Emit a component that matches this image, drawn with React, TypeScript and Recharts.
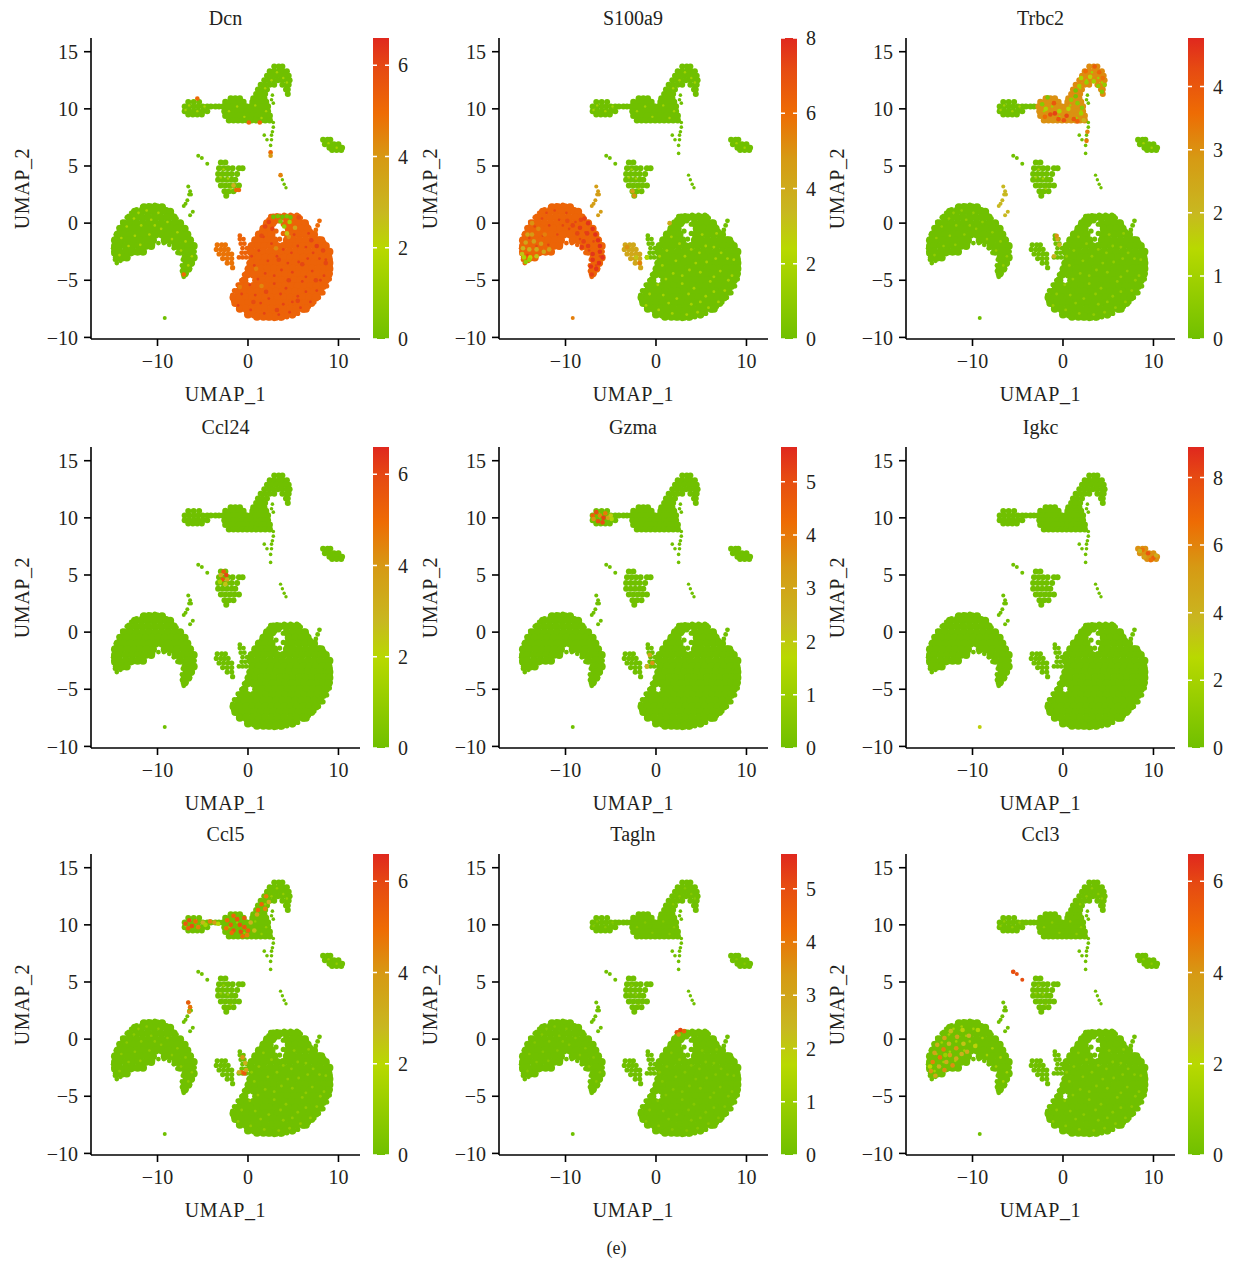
import React from 'react';
import {
  ScatterChart,
  Scatter,
  XAxis,
  YAxis,
  BarChart,
  Bar,
  ReferenceLine,
} from 'recharts';

type Row = [number, number[]];
type Hot = [number, number, number];

const FONT = '"Liberation Serif", serif';
const INK = '#231f20';

const genes = ['Dcn', 'S100a9', 'Trbc2', 'Ccl24', 'Gzma', 'Igkc', 'Ccl5', 'Tagln', 'Ccl3'];
const maxima = [6.6, 8, 4.77, 6.6, 5.65, 8.9, 6.6, 5.65, 6.6];
const legendTicks = [
  [0, 2, 4, 6],
  [0, 2, 4, 6, 8],
  [0, 1, 2, 3, 4],
  [0, 2, 4, 6],
  [0, 1, 2, 3, 4, 5],
  [0, 2, 4, 6, 8],
  [0, 2, 4, 6],
  [0, 1, 2, 3, 4, 5],
  [0, 2, 4, 6],
];
const xTicks = [-10, 0, 10];
const yTicks = [-10, -5, 0, 5, 10, 15];

const colorStops: [number, string][] = [
  [0, '#70c000'],
  [0.3, '#b8d900'],
  [0.42, '#c8b820'],
  [0.6, '#d69a14'],
  [0.75, '#ee6c04'],
  [0.9, '#e64a12'],
  [1, '#e0281e'],
];

// cells, written as rows: [UMAP_2, [UMAP_1 ...]]
const blobRows: Row[] = [
  [0.5, [2.8, 3.5, 4.2, 4.9, 5.5]],
  [0, [2.1, 2.7, 4.3, 5, 5.7, 6.3]],
  [-0.5, [1.7, 2.4, 4.5, 5.2, 5.9, 6.6]],
  [-1, [1.2, 1.9, 2.6, 4.4, 4.9, 5.6, 6.3, 7, 7.3]],
  [-1.5, [0.8, 1.5, 2.2, 2.9, 4.3, 5, 5.7, 6.4, 7.1, 7.8, 8.1]],
  [-2, [0.4, 1.1, 1.8, 2.5, 3.2, 3.9, 4.6, 5.3, 6, 6.7, 7.4, 8.1, 8.6]],
  [-2.5, [0.3, 1, 1.7, 2.4, 3.1, 3.8, 4.5, 5.2, 5.9, 6.6, 7.3, 8, 8.7, 9]],
  [-3, [0.5, 1.2, 1.9, 2.6, 3.3, 4, 4.7, 5.4, 6.1, 6.8, 7.5, 8.2, 8.9]],
  [-3.5, [0.3, 1, 1.7, 2.4, 3.1, 3.8, 4.5, 5.2, 5.9, 6.6, 7.3, 8, 8.7, 9]],
  [-4, [0.1, 0.8, 1.5, 2.2, 2.9, 3.6, 4.3, 5, 5.7, 6.4, 7.1, 7.8, 8.5, 9]],
  [-4.5, [-0.1, 0.6, 1.3, 2, 2.7, 3.4, 4.1, 4.8, 5.5, 6.2, 6.9, 7.6, 8.3, 8.9]],
  [-5, [-0.4, 0.9, 1.6, 2.3, 3, 3.7, 4.4, 5.1, 5.8, 6.5, 7.2, 7.9, 8.6]],
  [-5.5, [-0.8, -0.1, 0.6, 1.3, 2, 2.7, 3.4, 4.1, 4.8, 5.5, 6.2, 6.9, 7.6, 8.3]],
  [-6, [-1.1, -0.4, 0.3, 1, 1.7, 2.4, 3.1, 3.8, 4.5, 5.2, 5.9, 6.6, 7.3, 8]],
  [-6.5, [-1.6, -0.9, -0.2, 0.5, 1.2, 1.9, 2.6, 3.3, 4, 4.7, 5.4, 6.1, 6.8, 7.5]],
  [-7, [-1.4, -0.7, 0, 0.7, 1.4, 2.1, 2.8, 3.5, 4.2, 4.9, 5.6, 6.3, 7]],
  [-7.5, [-0.9, -0.2, 0.5, 1.2, 1.9, 2.6, 3.3, 4, 4.7, 5.4, 6.1, 6.4]],
  [-8, [0, 0.7, 1.4, 2.1, 2.8, 3.5, 4.2, 4.9]],
  [-8.2, [1, 1.7, 2.4, 3.1, 3.7]],
];
// outline cells, small, they smooth the edge; the last ones sit inside the top gap
const blobEdge: [number, number][] = [
  [2.5, 0.6], [3.2, 0.65], [4, 0.7], [4.7, 0.7], [5.4, 0.7], [5.8, 0.45], [6.2, 0.1], [6.5, -0.2], [6.9, -0.7],
  [7.4, -1.1], [7.9, -1.4], [8.4, -1.7], [8.7, -2.1], [9, -2.6], [9.1, -3.2], [9.1, -3.8], [9.1, -4.4], [9, -4.9],
  [8.7, -5.5], [8.3, -6.1], [7.8, -6.5], [7.3, -6.9], [6.7, -7.3], [6.1, -7.6], [5.5, -7.9], [4.9, -8.1], [4.3, -8.2],
  [3.6, -8.3], [2.9, -8.35], [2.2, -8.3], [1.5, -8.2], [0.9, -8.1], [0.3, -8], [-0.2, -7.7], [-0.7, -7.4], [-1.2, -7.1],
  [-1.6, -6.8], [-1.7, -6.3], [-1.5, -5.9], [-1.1, -5.4], [-0.7, -5], [-0.4, -4.5], [-0.1, -4], [0.1, -3.5], [0.3, -3],
  [0.3, -2.5], [0.4, -2], [0.7, -1.6], [1.1, -1.1], [1.5, -0.7], [1.9, -0.2], [2.3, 0.3],
  [3, 0.1], [3.9, -0.1], [3.1, -0.7], [3.9, -0.9], [3.5, -1.4], [3.4, 0.2],
];
const crescentRows: Row[] = [
  [1.4, [-11.5, -10.8, -10.1, -9.5]],
  [1, [-12.5, -11.8, -11.1, -10.4, -9.7, -9, -8.6]],
  [0.5, [-13.1, -12.4, -11.7, -11, -10.3, -9.6, -8.9, -8.2]],
  [0, [-13.7, -13, -12.3, -11.6, -10.9, -10.2, -9.5, -8.8, -8.1, -7.5]],
  [-0.5, [-14.1, -13.4, -12.7, -12, -11.3, -10.6, -9.9, -9.2, -8.5, -7.8, -7]],
  [-1, [-14.4, -13.7, -13, -12.3, -11.6, -10.9, -10.2, -9.5, -8.8, -8.1, -7.4, -6.7]],
  [-1.5, [-14.7, -14, -13.3, -12.6, -11.9, -11.2, -10.5, -9.2, -8.5, -7.8, -7.1, -6.4]],
  [-2, [-14.7, -14.2, -13.5, -12.8, -12.1, -11.4, -10.7, -8, -7.3, -6.6, -6]],
  [-2.5, [-14.7, -14.2, -13.5, -12.8, -12.2, -11.6, -7.5, -6.8, -6.2]],
  [-3, [-14.5, -13.9, -13.4, -6.9, -6.3, -6]],
  [-3.5, [-6.8, -6.3]],
  [-4, [-7, -6.6]],
  [-4.4, [-7]],
];
const crescentEdge: [number, number][] = [
  [-14.9, -2.2], [-14.8, -1.6], [-14.6, -1], [-14.3, -0.4], [-13.9, 0.1], [-13.4, 0.5], [-12.9, 0.9], [-12.3, 1.2],
  [-11.7, 1.4], [-11, 1.55], [-10.3, 1.6], [-9.6, 1.45], [-9, 1.2], [-8.4, 0.8], [-7.9, 0.4], [-7.5, 0], [-7.1, -0.5],
  [-6.7, -1], [-6.3, -1.4], [-6, -1.9], [-5.9, -2.5], [-5.9, -3], [-6.1, -3.5], [-6.4, -4], [-6.8, -4.4], [-7.1, -4.7],
  [-7.3, -4.2], [-7.3, -3.7], [-7.2, -3.2], [-14.5, -3.5], [-14.1, -3.3], [-13.5, -3], [-12.9, -2.7], [-12.3, -2.5],
  [-11.7, -2.3], [-11.1, -2.1], [-10.5, -1.9], [-9.9, -1.75], [-9.3, -1.75], [-8.7, -1.9], [-8.2, -2.2], [-7.8, -2.6],
  [-14.85, -2.7], [-14.7, -3.2],
];
const stromaRows: Row[] = [
  [-1.9, [-3.4, -2.9, -2.5]],
  [-2.3, [-3.5, -3, -2.6, -2.2]],
  [-2.7, [-3.2, -2.7, -2.2, -1.8]],
  [-3.1, [-2.8, -2.3, -1.8]],
  [-3.5, [-2.3, -1.8]],
  [-3.9, [-1.7]],
];
const fingerRows: Row[] = [
  [-1.1, [-0.9]],
  [-1.4, [-0.9, -0.5]],
  [-1.8, [-0.8, -0.4]],
  [-2.2, [-0.6, -0.1]],
  [-2.6, [-0.7, -0.3]],
  [-3, [-1, -0.6, -0.2]],
];
const spikeRows: Row[] = [
  [0.2, [7.9]],
  [-0.2, [7.7]],
  [-0.6, [7.5]],
];
const stripeRows: Row[] = [
  [3.2, [-6.6]],
  [2.8, [-6.4]],
  [2.5, [-6.5, -6.3]],
  [2, [-6.7]],
  [1.7, [-6.9]],
  [1.5, [-7.1]],
  [1, [-6.1]],
  [0.7, [-6.4]],
];
const bitRows: Row[] = [
  [5.9, [-5.5]],
  [5.7, [-5.1]],
  [5.2, [-4.5]],
];
const midRows: Row[] = [
  [5.3, [-3, -2.5]],
  [4.8, [-3.2, -2.7, -2.2, -1.7, -1, -0.6]],
  [4.3, [-3.3, -2.8, -2.3, -1.8, -1.2]],
  [3.8, [-3.3, -2.8, -2.3, -1.8, -1.4]],
  [3.3, [-3, -2.5, -2, -1.5, -1]],
  [2.8, [-2.6, -2.1, -1.6]],
  [2.4, [-2.4]],
];
const nkRows: Row[] = [
  [10.6, [-6.6, -6, -5.4]],
  [10.2, [-7, -6.5, -6, -5.5, -5, -4.5, -4.1, -3.6, -3.2]],
  [9.8, [-7, -6.5, -6, -5.5, -5, -4.5]],
  [9.5, [-6.6, -6.1, -5.6, -5.1]],
];
const bodyRows: Row[] = [
  [10.9, [-1.9, -1.4, -0.9, 0.6, 1, 1.4, 1.8]],
  [10.6, [-2.5, -2, -1.5, -1, -0.5, 0.5, 1, 1.5, 2]],
  [10.2, [-2.7, -2.2, -1.7, -1.2, -0.7, -0.2, 0.3, 0.8, 1.3, 1.8, 2.2]],
  [9.8, [-2.6, -2.1, -1.6, -1.1, -0.6, -0.1, 0.4, 0.9, 1.4, 1.9, 2.2]],
  [9.4, [-2.5, -2, -1.5, -1, -0.5, 0, 0.5, 1, 1.5, 2, 2.4]],
  [9, [-2.1, -1.6, -1.1, -0.6, -0.1, 0.4, 0.9, 1.4, 1.9, 2.4]],
];
const headRows: Row[] = [
  [13.7, [2.9, 3.4, 3.8]],
  [13.3, [2.4, 2.9, 3.4, 3.9, 4.3]],
  [12.9, [2.1, 2.6, 3.1, 3.6, 4.1, 4.5]],
  [12.5, [1.8, 2.3, 2.8, 3.3, 3.8, 4.3, 4.6]],
  [12.1, [1.4, 1.9, 2.4, 2.9, 3.8, 4.3, 4.5]],
  [11.7, [1.1, 1.6, 2.1, 4.2, 4.4]],
  [11.3, [0.9, 1.4, 1.9, 4.4]],
];
const tailRows: Row[] = [
  [11.2, [2.7]],
  [10.8, [2.6]],
  [10.5, [2.8]],
  [8.8, [2.8]],
  [8.4, [2.8]],
  [8, [2.7]],
  [7.7, [1.8, 2.6]],
  [7.3, [2.1, 2.6]],
  [6.8, [2.5]],
  [6.1, [2.5]],
];
const stripRows: Row[] = [
  [4.2, [3.6]],
  [3.8, [3.8]],
  [3.4, [4]],
  [3.1, [4.2]],
];
const islandRows: Row[] = [
  [7.3, [8.3, 8.8, 9.1]],
  [6.9, [8.5, 9, 9.5, 10]],
  [6.6, [9, 9.5, 10, 10.4]],
  [6.4, [9.3, 9.8, 10.3]],
];
const dotRows: Row[] = [[-8.3, [-9.2]]];

const clusterRows = [
  blobRows, crescentRows, stromaRows, fingerRows, spikeRows, stripeRows, bitRows, midRows,
  nkRows, bodyRows, headRows, tailRows, stripRows, islandRows, dotRows,
];
const clusterSizes = [4, 4, 2.6, 2.4, 2.4, 2, 2, 3, 3, 3.2, 3, 1.8, 1.7, 3, 2];

// expression per cluster, same order as clusterRows
const baseLevels = [
  [5.2, 0, 4.8, 5.2, 5, 0, 0, 0, 0, 0, 0, 0, 0, 0, 0],
  [0, 6.3, 4.2, 0, 0, 4.6, 0, 0, 0, 0, 0, 0, 0, 0, 5.5],
  [0, 0, 0, 0, 0, 2, 0, 0, 0, 3, 3.1, 0, 0, 0, 0],
  [0, 0, 0, 0, 0, 0, 0, 0, 0, 0, 0, 0, 0, 0, 0],
  [0, 0, 0, 0, 0, 0, 0, 0, 0, 0, 0, 0, 0, 0, 0],
  [0, 0, 0, 0, 0, 0, 0, 0, 0, 0, 0, 0, 0, 5.6, 3],
  [0, 0, 0, 0, 0, 0, 0, 0, 0, 0, 0, 0, 0, 0, 0],
  [0, 0, 0, 0, 0, 0, 0, 0, 0, 0, 0, 0, 0, 0, 0],
  [0, 0, 0, 0, 0, 0, 5.8, 0, 0, 0, 0, 0, 0, 0, 0],
];

const blobSpecks: [number, number][] = [
  [1.2, -2.4], [2.6, -1.8], [4.8, -2.6], [6.4, -2.1], [7.9, -3.1], [0.7, -3.7], [2.2, -3.3], [3.7, -4.1],
  [5.6, -3.4], [7.1, -4.2], [8.4, -4.6], [1.1, -4.9], [2.9, -5.3], [4.2, -5.7], [6, -5.1], [7.6, -5.9],
  [-0.7, -6.2], [0.8, -6.3], [2.3, -6.6], [3.9, -7.1], [5.5, -6.4], [6.9, -6.9], [-1.1, -7.2], [0.3, -7.6],
  [1.8, -7.9], [3.4, -8], [4.6, -7.8], [5.8, -7.4], [3.2, -2.9], [5.1, -1], [6.7, -0.9], [1.9, -4.4],
  [0.4, -2.9], [1.7, -1.2], [3.9, -2.3], [5.5, -2], [7.2, -2.6], [8.6, -3.2], [4.4, -3.5], [6.6, -3.1],
  [2.9, -4.6], [4.9, -4.3], [6.4, -4.7], [0.2, -5.4], [3.6, -6.2], [6.4, -6], [1.4, -7], [4.9, -6.9], [8, -5],
];
const crescentSpecks: [number, number][] = [
  [-11.2, 1.1], [-9.9, 0.9], [-12.6, 0.4], [-10.7, 0.3], [-8.9, 0.1], [-13.4, -0.3], [-11.8, -0.2], [-9.6, -0.5],
  [-7.8, -0.8], [-14, -1.3], [-12.5, -1.1], [-10.9, -1], [-8.4, -1.4], [-6.9, -1.6], [-13.2, -2], [-11.9, -1.9],
  [-7.4, -2.4], [-6.2, -2.9], [-14.2, -2.8], [-6.6, -3.7], [-10.3, -0.2], [-12.1, 0.9],
];
const upperSpecks: [number, number][] = [
  [-6.5, 10.3], [-5.6, 9.8], [-6.9, 9.9], [-4.8, 10.2], [-2.1, 9.8], [-1.2, 10.2], [-0.4, 9.3], [0.8, 10.3],
  [1.5, 9.2], [2, 9.8], [3.2, 13.2], [3.9, 12.7], [2.6, 12.5], [4.3, 12.3], [1.9, 11.8], [-2.7, 4.7],
  [-2.2, 3.9], [-3, 4], [-1.9, 3], [8.9, 7], [9.8, 6.6],
];

// per panel: value of the specks over blob, crescent, upper clusters
const speckLevels = [
  [6.1, 1.6, 1.5],
  [1.8, 7.3, 1.7],
  [0.7, 0.7, 1],
  [0, 0, 0],
  [0, 0, 0],
  [0, 0, 0],
  [0.9, 0.8, 1],
  [0.5, 0.5, 0.5],
  [0.8, 1.4, 0.8],
];

const dcnHot: Hot[] = [
  [7, -1.5, 6], [7.6, -2, 6.2], [8.3, -2.4, 6], [5.6, 0.5, 5.8], [1.9, -0.3, 6], [2.3, 0.1, 6.1], [2.7, -0.5, 6],
  [1.5, -1.1, 5.9], [3.4, -3.2, 5.9], [6, -3.6, 6], [4.5, -5, 6], [2, -6, 6], [7.5, -5, 6], [8.6, -3.5, 6],
  [5.5, -6.8, 6], [3.2, -7.6, 6], [0.6, -6.9, 5.9], [-0.9, -5.6, 4.6], [1.5, -5.5, 4.4], [0.9, -4, 4.5],
  [3.1, -2.2, 4.3], [4.5, -1.2, 4.2], [5.2, -0.4, 3.6], [2.8, 0.55, 0], [3.3, 0.6, 0.2], [3.8, 0.55, 0],
  [4.3, 0.6, 0.3], [4.7, 0.5, 0], [3.6, 0.15, 0.5], [4, -0.3, 1], [4.3, -0.9, 2.5], [4.6, 0.1, 1.5],
  [-1.3, 2.9, 5], [-1, 2.9, 5], [-1.6, 3.3, 3], [2.5, 6.2, 5], [2.5, 5.9, 4], [3.6, 4.2, 4.5],
  [-7.1, -4.5, 5], [-5.6, 10.9, 5], [0.1, 8.8, 5], [1.3, 8.8, 5],
];
const s100Hot: Hot[] = [
  [-7.5, 0, 7.7], [-7, -0.5, 7.7], [-6.7, -1, 7.8], [-6.4, -1.5, 7.8], [-6.2, -2, 7.8], [-6.2, -2.5, 7.7],
  [-5.9, -3, 7.8], [-6.3, -3.5, 7.8], [-6.6, -4, 7.7], [-7.1, -4.5, 7.4], [-7.6, -0.9, 7.5], [-8.3, 0.3, 7.3],
  [-8.7, -0.9, 7.3], [-9.2, -0.2, 7.3], [-8, -1.6, 7.4], [-7.5, -2, 7.5], [-7, -2.7, 7.7],
  [-7, -3.2, 7.7], [-7.2, -3.8, 7.7], [-8.2, -2.1, 7.5], [-8.4, -0.4, 7.5], [-7.9, 0.4, 7.4], [-9.8, 0.2, 7.1],
  [-13, -0.5, 5.3], [-13.7, 0, 5], [-12.3, -1, 5.5], [-13.7, -1, 4.8], [-14.2, -1, 4.4], [-14.4, -1.7, 4.3],
  [-13.5, -1.6, 4.5], [-12.7, -1.8, 4.8], [-14.7, -2.2, 3.6], [-14, -2.3, 3.8], [-13.2, -2.3, 4],
  [-12.4, -2.5, 4.2], [-11.8, -2.3, 4.6], [-14.6, -3, 2], [-13.9, -3, 2.5], [-14.4, -3.4, 1.2], [-13.2, -2.9, 3],
  [-14.8, -2.7, 3], [-14, -3.2, 1.5], [-2.2, -3, 3], [-1.8, -3.5, 5.5], [-3.2, -2.1, 5], [-2.4, 2.4, 5],
  [-2.6, 2.8, 4.5], [1.5, 0, 4], [-1, -3, 2],
];
const trbcHot: Hot[] = [
  [2.5, 13.3, 3.6], [3.5, 13.7, 3.9], [4, 13.2, 3.7], [4.4, 12.7, 3.5], [3, 12.8, 1.5], [2.6, 12.3, 0.8],
  [3.4, 12.4, 1], [3.9, 12, 0.6], [4.6, 12.1, 0.7], [1.8, 12, 1], [4.3, 11.5, 0.4], [2, 12.7, 1.2], [1.4, 11.6, 0.2],
  [-2.3, 10.4, 0.5], [-1.7, 11, 0.3], [-1, 10.5, 4], [-1.4, 9.5, 4.2], [-0.5, 9.1, 4], [0.4, 9.4, 4.3], [1.2, 9.1, 4],
  [2, 9.6, 1], [1.6, 10.5, 0.6], [0.9, 10.8, 0.7], [1.4, 11.1, 0.2], [2.1, 10.1, 0.5], [-0.4, 9.8, 1.2],
  [0.6, 10, 1.5], [-2, 9.3, 3.6], [1.6, 8.9, 3.8], [2.3, 9, 2.2], [-1.9, 10, 1.2], [-0.9, 9.6, 4.4], [0.1, 9, 4.1],
  [2.7, 8, 3.2], [2.6, 7.2, 3.4], [-0.6, -1.4, 2.5], [-0.4, -1.9, 2], [-0.7, -1.1, 3], [-1, -2.9, 2.2],
];
const ccl24Hot: Hot[] = [
  [-2.7, 5.3, 5.5], [-3, 5, 3.5], [-2.4, 5, 6], [-2.8, 4.6, 5.6], [-2.3, 4.6, 3.5], [-2.5, 4.2, 2.5], [-3.1, 4.4, 1.5],
];
const gzmaHot: Hot[] = [
  [-7, 10.2, 4.5], [-6.6, 10.5, 5], [-6.2, 10.2, 3.8], [-6.4, 9.7, 4.9], [-5.9, 9.6, 5], [-5.6, 10.4, 4],
  [-5.3, 10, 3.2], [-5.8, 10, 5.2], [-6.9, 9.9, 3.5], [-5, 10.2, 2], [-4.9, 9.9, 1.5], [-0.7, -2, 3], [-0.4, -2.7, 3.5],
  [-1, -3, 2.5],
];
const igkcHot: Hot[] = [
  [8.8, 7.2, 6.5], [9.4, 6.9, 7.5], [10, 6.5, 7.2], [9.7, 6.3, 6.6], [10.3, 6.7, 4.5], [8.5, 7.1, 4], [9, 6.6, 5],
];
const ccl5Hot: Hot[] = [
  [-6.9, 10.1, 5.5], [-6.5, 10.4, 5.7], [-6.2, 9.9, 5.8], [-6.6, 9.7, 5.2], [-5.8, 10.3, 5], [-5.5, 9.8, 4.5],
  [-5, 10.2, 3], [-4.7, 10, 1.5], [-4.2, 10.3, 4.5], [-3.7, 10.2, 3.8], [-3.3, 10.1, 2], [-2.3, 10.4, 5],
  [-1.9, 10, 5.4], [-1.6, 9.5, 5.6], [-1.2, 10.5, 5.5], [-0.9, 10, 5.7], [-0.8, 9.4, 5.8], [-0.4, 9.8, 5.5],
  [0, 9.5, 5.2], [-0.4, 10.6, 5.4], [-1.6, 10.8, 5.2], [-0.1, 9.1, 4.5], [-0.6, 9, 5], [-1.8, 9.3, 5], [-2.4, 9.7, 4.8],
  [0.3, 10.2, 3], [0.7, 9.5, 2.5], [1.1, 11.3, 5], [1.5, 11.8, 5.2], [1.9, 11.4, 4.5], [2.3, 12, 3], [2, 12.5, 4.5],
  [1, 10.9, 3.5], [-6.6, 3.2, 5.5], [-6.4, 2.8, 4.8], [-6.5, 2.4, 4], [-0.6, -1.6, 4], [-0.3, -2.1, 3],
  [-0.7, -2.9, 4.8], [-0.4, -3, 5.5], [-0.2, -2.7, 3.5], [-1, -2.9, 3],
];
const taglnHot: Hot[] = [
  [2.3, 0.6, 5], [2.7, 0.8, 5.2], [3.1, 0.7, 4.5], [2.5, 0.4, 3.5],
];
const ccl3Hot: Hot[] = [
  [-14.6, -2.8, 4], [-14.1, -3.2, 3.5], [-14.4, -2, 4.5], [-13.7, -2.4, 3], [-13.1, -2.7, 4.2], [-14.2, -1.2, 3.6],
  [-13.6, -1.6, 4.6], [-12.9, -2, 3.3], [-12.2, -2.3, 4.2], [-13.9, -0.5, 3.2], [-13.2, -0.9, 4.5], [-12.5, -1.4, 3.6],
  [-11.8, -1.7, 3.2], [-13.1, 0.1, 3.5], [-12.6, -0.4, 2.8], [-11.8, -0.8, 4], [-11.2, -1.3, 3],
  [-12.4, 0.7, 2.6], [-11.7, 0.2, 3.4], [-11, -0.4, 2.5], [-10.6, -1.1, 3.3], [-11.1, 0.8, 2.2], [-10.4, 0.3, 2.8],
  [-9.7, -0.6, 2.2], [-14.7, -2.4, 2], [-13, -1.4, 1.2], [-9.4, 0.8, 1.8], [-5.5, 5.9, 5.8],
];
const hotLists = [dcnHot, s100Hot, trbcHot, ccl24Hot, gzmaHot, igkcHot, ccl5Hot, taglnHot, ccl3Hot];

const panelX = [0, 407.5, 815];
const panelY = [0, 408.5, 816];

const parseHex = (c: string) => [1, 3, 5].map((i) => parseInt(c.slice(i, i + 2), 16));

const colorOf = (t: number) => {
  const f = Math.min(1, Math.max(0, t));
  for (let i = 1; i < colorStops.length; i++) {
    if (f <= colorStops[i][0]) {
      const [a, ca] = colorStops[i - 1];
      const [b, cb] = colorStops[i];
      const k = (f - a) / (b - a);
      const ra = parseHex(ca);
      const rb = parseHex(cb);
      return `rgb(${ra.map((v, j) => Math.round(v + (rb[j] - v) * k)).join(',')})`;
    }
  }
  return colorStops[colorStops.length - 1][1];
};

const expand = (rows: Row[], v: number) =>
  rows.flatMap(([y, xs]) => xs.map((x) => ({ x, y, v })));

const dot = (r: number, max: number) => (p: any) => (
  <circle cx={p.cx} cy={p.cy} r={r} fill={colorOf(p.payload.v / max)} />
);

const minus = (v: number) => (v < 0 ? `\u2212${-v}` : `${v}`);

const tickStyle = { fontSize: 20, fill: INK, fontFamily: FONT };
const labelStyle = { ...tickStyle, letterSpacing: 0.6 };
const axisStyle = { stroke: '#000', strokeWidth: 1.6 };

const Panel = ({ index }: { index: number }) => {
  const max = maxima[index];
  const row = Math.floor(index / 3);
  const col = index % 3;
  const [sBlob, sCres, sUp] = speckLevels[index];
  const toPts = (list: [number, number][], v: number) => list.map(([x, y]) => ({ x, y, v }));
  const hot = hotLists[index].map(([x, y, v]) => ({ x, y, v }));

  return (
    <div style={{ position: 'absolute', left: panelX[col], top: panelY[row], width: 420, height: 410 }}>
      <div
        style={{
          position: 'absolute',
          left: 91,
          width: 269,
          top: 7,
          textAlign: 'center',
          font: `20px ${FONT}`,
          color: INK,
        }}
      >
        {genes[index]}
      </div>
      <ScatterChart width={360} height={410} margin={{ top: 38, right: 0, bottom: 0, left: 0 }}>
        <XAxis
          type="number"
          dataKey="x"
          domain={[-17.35, 12.38]}
          allowDataOverflow
          ticks={xTicks}
          tickFormatter={minus}
          tick={tickStyle}
          axisLine={axisStyle}
          tickLine={axisStyle}
          tickSize={7}
          tickMargin={8}
          height={71}
          label={{ value: 'UMAP_1', position: 'insideBottom', offset: 9, style: labelStyle }}
        />
        <YAxis
          type="number"
          dataKey="y"
          domain={[-10.14, 16.2]}
          allowDataOverflow
          ticks={yTicks}
          tickFormatter={minus}
          tick={tickStyle}
          axisLine={axisStyle}
          tickLine={axisStyle}
          tickSize={7}
          tickMargin={6}
          width={91}
          label={{
            value: 'UMAP_2',
            angle: -90,
            position: 'insideLeft',
            offset: 22,
            style: { ...labelStyle, textAnchor: 'middle' },
          }}
        />
        <Scatter data={toPts(blobEdge, baseLevels[index][0])} shape={dot(2.6, max)} isAnimationActive={false} />
        <Scatter data={toPts(crescentEdge, baseLevels[index][1])} shape={dot(2.4, max)} isAnimationActive={false} />
        {clusterRows.map((rows, i) => (
          <Scatter
            key={i}
            data={expand(rows, baseLevels[index][i])}
            shape={dot(clusterSizes[i], max)}
            isAnimationActive={false}
          />
        ))}
        {sBlob > 0 && <Scatter data={toPts(blobSpecks, sBlob)} shape={dot(1.4, max)} isAnimationActive={false} />}
        {sCres > 0 && <Scatter data={toPts(crescentSpecks, sCres)} shape={dot(1.3, max)} isAnimationActive={false} />}
        {sUp > 0 && <Scatter data={toPts(upperSpecks, sUp)} shape={dot(1.2, max)} isAnimationActive={false} />}
        <Scatter data={hot} shape={dot(2.3, max)} isAnimationActive={false} />
      </ScatterChart>
      <div style={{ position: 'absolute', left: 373, top: 0 }}>
        <BarChart
          width={60}
          height={410}
          data={[{ name: 'scale', value: max }]}
          margin={{ top: 38, right: 0, bottom: 71, left: 0 }}
          barCategoryGap={0}
        >
          <defs>
            <linearGradient id={`scale-${index}`} x1="0" y1="1" x2="0" y2="0">
              {colorStops.map(([o, c]) => (
                <stop key={o} offset={o} stopColor={c} />
              ))}
            </linearGradient>
          </defs>
          <XAxis dataKey="name" hide />
          <YAxis
            orientation="right"
            type="number"
            domain={[0, max]}
            allowDataOverflow
            ticks={legendTicks[index]}
            tick={tickStyle}
            axisLine={false}
            tickLine={false}
            tickSize={0}
            tickMargin={9}
            width={44}
          />
          <Bar dataKey="value" fill={`url(#scale-${index})`} isAnimationActive={false} />
          {legendTicks[index].map((t) => (
            <ReferenceLine key={t} y={t} stroke="#fff" strokeWidth={1.5} strokeDasharray="4 8 4" />
          ))}
        </BarChart>
      </div>
    </div>
  );
};

const App = () => (
  <div style={{ position: 'absolute', left: 0, top: 0, width: 1233, height: 1265, background: '#fff' }}>
    {genes.map((g, i) => (
      <Panel key={g} index={i} />
    ))}
    <div
      style={{
        position: 'absolute',
        left: 0,
        width: 1233,
        top: 1238,
        textAlign: 'center',
        font: `18px ${FONT}`,
        color: INK,
      }}
    >
      (e)
    </div>
  </div>
);

export default App;
